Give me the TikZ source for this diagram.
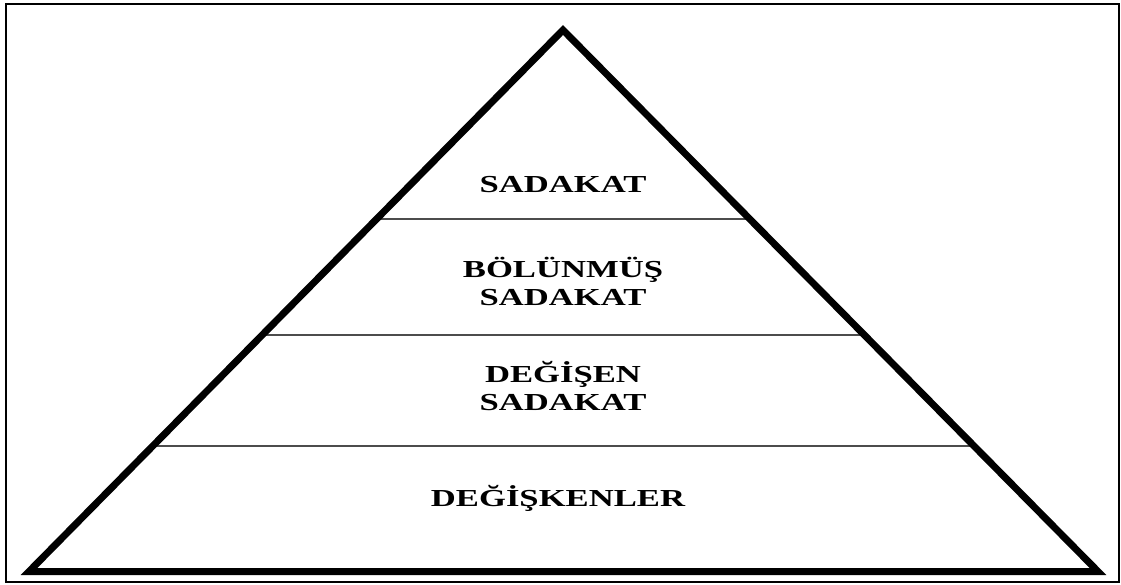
\documentclass[tikz,border=0pt]{standalone}
\usepackage{fontspec}
\usetikzlibrary{calc}
\newfontfamily\pyrfont{Liberation Serif}[FakeStretch=1.42]
\begin{document}
\begin{tikzpicture}[x=1pt,y=-1pt,
  frame/.style={line width=2.5pt,draw=black},
  level/.style={line width=1.8pt,draw=black!70},
  pyramid/.style={line width=7pt,draw=black,line join=miter,miter limit=20},
  label/.style={font=\pyrfont\bfseries\fontsize{24.4}{28}\selectfont,align=center,anchor=base,inner sep=0pt}]
  \useasboundingbox (0,0) rectangle (1121,585);
  \draw[frame] (6,4) rectangle (1119,582);
  \coordinate (apex) at (563,30);
  \coordinate (bl) at (29,571.5);
  \coordinate (br) at (1098,571.5);
  % dividing lines between the levels
  \draw[level] ($(apex)!0.349!(bl)$) -- ($(apex)!0.349!(br)$);
  \draw[level] ($(apex)!0.5633!(bl)$) -- ($(apex)!0.5633!(br)$);
  \draw[level] ($(apex)!0.7682!(bl)$) -- ($(apex)!0.7682!(br)$);
  \draw[pyramid] (apex) -- (bl) -- (br) -- cycle;
  % the base anchor of a two-line label sits on its last line
  \node[label] (l1) at (563,193) {SADAKAT};
  \node[label] (l2) at (563,305) {BÖLÜNMÜŞ\\SADAKAT};
  \node[label] (l3) at (563,410) {DEĞİŞEN\\SADAKAT};
  \node[label] (l4) at (558,506) {DEĞİŞKENLER};
\end{tikzpicture}
\end{document}
